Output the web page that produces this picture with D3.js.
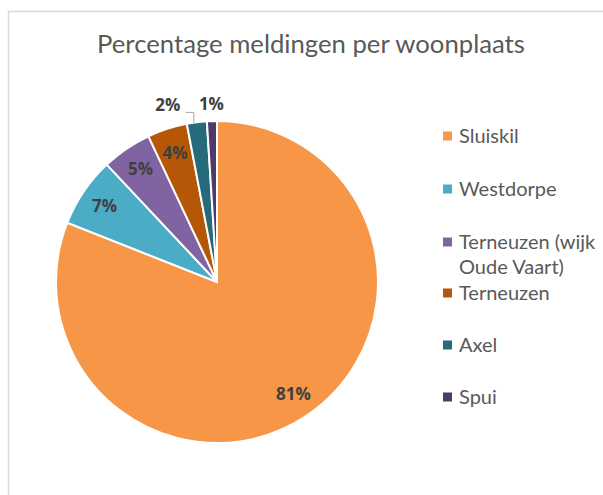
<!DOCTYPE html>
<html><head><meta charset="utf-8">
<script src="https://cdn.jsdelivr.net/npm/d3@7"></script>
<style>html,body{margin:0;padding:0;background:#fff;}svg{display:block;}</style>
</head><body>
<script>
const categories = ["Sluiskil","Westdorpe","Terneuzen (wijk Oude Vaart)","Terneuzen","Axel","Spui"];
const legendLines = [["Sluiskil"],["Westdorpe"],["Terneuzen (wijk","Oude Vaart)"],["Terneuzen"],["Axel"],["Spui"]];
const values = [81,7,5,4,2,1];
const labels = ["81%","7%","5%","4%","2%","1%"];
const colors = ["#F79646","#4BACC6","#8064A2","#B65708","#276A7C","#4F3B69"];
const title = "Percentage meldingen per woonplaats";

const W=603,H=495;
const svg=d3.select("body").append("svg").attr("width",W).attr("height",H);
svg.append("path").attr("d",`M8.5,${H} L8.5,11.5 L${W},11.5`).attr("fill","none").attr("stroke","#D9D9D9").attr("stroke-width",1.5);

svg.append("text").attr("x",311).attr("y",53).attr("text-anchor","middle")
  .attr("font-family","Lato, 'Open Sans', sans-serif").attr("font-size",25.7).attr("fill","#595959").text(title);

const cx=217, cy=282, R=161;
const pie=d3.pie().sort(null).value(d=>d)(values);
const arc=d3.arc().innerRadius(0).outerRadius(R);
const g=svg.append("g").attr("transform",`translate(${cx},${cy})`);
g.selectAll("path").data(pie).join("path").attr("d",arc)
  .attr("fill",(d,i)=>colors[i]).attr("stroke","#fff").attr("stroke-width",2);

const labelR = 136, outR = 178;
const outside = [false,false,false,false,true,true];
const shiftX = [0,0,0,0,-27,0];
pie.forEach((d,i)=>{
  const a=(d.startAngle+d.endAngle)/2;
  const r=outside[i]?outR:labelR;
  const x=Math.sin(a)*r+shiftX[i], y=-Math.cos(a)*r;
  g.append("text").attr("x",x).attr("y",y).attr("dy","0.35em").attr("text-anchor","middle")
    .attr("font-family","'Open Sans', Lato, sans-serif").attr("font-weight","bold").attr("font-size",17)
    .attr("fill","#404040").text(labels[i]);
  if(shiftX[i]!==0){
    const ex=Math.sin(a)*R, ey=-Math.cos(a)*R;
    const lx=x+18;
    g.append("path").attr("d",`M${lx},${y+7} L${ex-3},${y+7} L${ex-3},${ey+1}`)
      .attr("fill","none").attr("stroke","#A6A6A6").attr("stroke-width",1);
  }
});

const legY=[136,189,242,293,345,397];
const lg=svg.append("g");
categories.forEach((c,i)=>{
  lg.append("rect").attr("x",443).attr("y",legY[i]-4.5).attr("width",9).attr("height",9).attr("fill",colors[i]);
  legendLines[i].forEach((t,j)=>{
    lg.append("text").attr("x",459).attr("y",legY[i]+j*25).attr("dy","0.35em")
      .attr("font-family","Lato, 'Open Sans', sans-serif").attr("font-size",20).attr("fill","#595959").text(t);
  });
});
</script>
</body></html>
